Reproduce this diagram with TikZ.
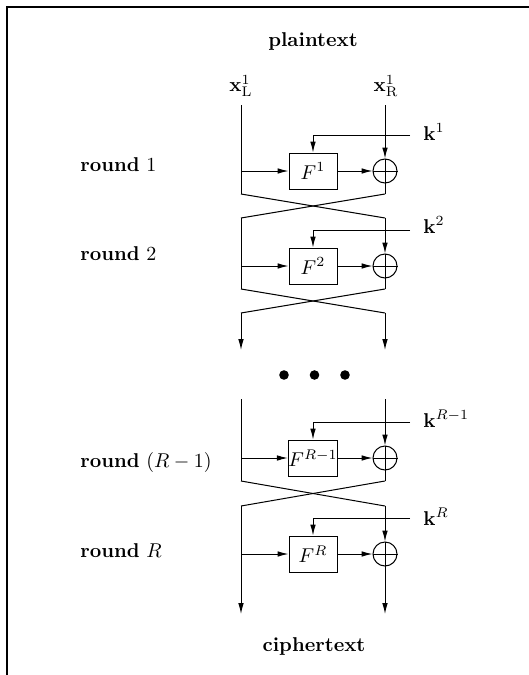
\documentclass[tikz,border=0pt]{standalone}
\usetikzlibrary{arrows.meta}
\begin{document}
\begin{tikzpicture}[x=0.5pt,y=-0.5pt,
  ln/.style={line width=0.5pt},
  arr/.style={line width=0.5pt,-{Latex[length=5.5pt,width=2.8pt]}},
  fbox/.style={draw,line width=0.5pt,minimum width=24pt,minimum height=18pt,inner sep=0pt},
  xorc/.style={draw,circle,line width=0.5pt,minimum size=12pt,inner sep=0pt},
  lbl/.style={inner sep=0pt,anchor=base west},
  ttl/.style={font=\bfseries,inner sep=0pt}]
\useasboundingbox (0,0) rectangle (529,675);
\draw[line width=0.6pt] (7,690) -- (7,7) -- (540,7);
\node[ttl] (pt) at (313,41) {plaintext};
\node[inner sep=0pt] (xl) at (241,86) {$\mathbf{x}_{\mathrm{L}}^1$};
\node[inner sep=0pt] (xr) at (386,86) {$\mathbf{x}_{\mathrm{R}}^1$};
\foreach \i/\yc/\t/\Fl/\kl/\rl/\rb/\kb in {
  1/171/105/{$F^1$}/{$\mathbf{k}^1$}/{\textbf{round} $1$}/171/140,
  2/266/218/{$F^2$}/{$\mathbf{k}^2$}/{\textbf{round} $2$}/260/233,
  3/458/399/{$F^{R-1}$}/{$\mathbf{k}^{R-1}$}/{\textbf{round} $(R-1)$}/467/427,
  4/554/506/{$F^{R}$}/{$\mathbf{k}^{R}$}/{\textbf{round} $R$}/557/525}{
  \coordinate (Lt\i) at (241,\t);
  \coordinate (Rt\i) at (385,\t);
  \coordinate (Lc\i) at (241,\yc);
  \coordinate (Lb\i) at (241,\yc+23);
  \coordinate (Rb\i) at (385,\yc+23);
  \coordinate (Ks\i) at (410,\yc-36);
  \coordinate (Kc\i) at (313,\yc-36);
  \node[fbox] (F\i) at (313,\yc) {\Fl};
  \node[xorc] (X\i) at (385,\yc) {};
  \draw[ln] (X\i.north) -- (X\i.south) (X\i.west) -- (X\i.east);
  \node[lbl] (K\i) at (423,\kb) {\kl};
  \node[lbl] (RL\i) at (80,\rb) {\rl};
  \draw[ln] (Lt\i) -- (Lb\i);
  \draw[arr] (Rt\i) -- (X\i.north);
  \draw[ln] (X\i.south) -- (Rb\i);
  \draw[arr] (Ks\i) -- (Kc\i) -- (F\i.north);
  \draw[arr] (Lc\i) -- (F\i.west);
  \draw[arr] (F\i.east) -- (X\i.west);
}
% crossings
\coordinate (Ln2) at (241,313);
\coordinate (Rn2) at (385,313);
\draw[ln] (Lb1) -- (Rt2);
\draw[ln] (Rb1) -- (Lt2);
\draw[ln] (Lb2) -- (Rn2);
\draw[ln] (Rb2) -- (Ln2);
\draw[ln] (Lb3) -- (Rt4);
\draw[ln] (Rb3) -- (Lt4);
\coordinate (La2) at (241,350);
\coordinate (Ra2) at (385,350);
\draw[arr] (Ln2) -- (La2);
\draw[arr] (Rn2) -- (Ra2);
% dots
\fill (284,375) circle (2.4pt) (314.5,375) circle (2.4pt) (345,375) circle (2.4pt);
% outputs
\coordinate (Lo) at (241,614);
\coordinate (Ro) at (385,614);
\draw[arr] (Lb4) -- (Lo);
\draw[arr] (Rb4) -- (Ro);
\node[ttl] (ct) at (314,646) {ciphertext};
\end{tikzpicture}
\end{document}
